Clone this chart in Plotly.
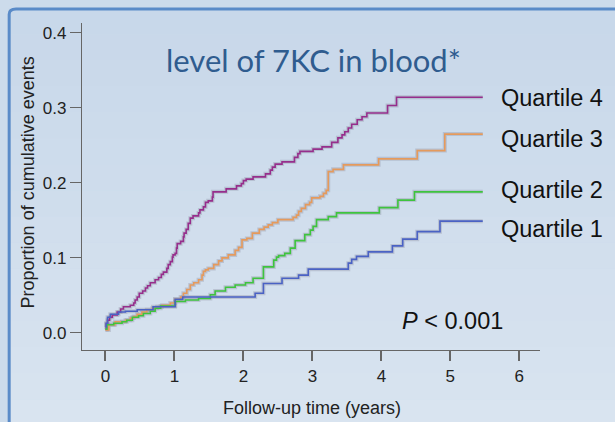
import plotly.graph_objects as go

# ---- data ----
series_names = ["Quartile 4", "Quartile 3", "Quartile 2", "Quartile 1"]

q4_t = [0.0, 0.014, 0.03, 0.06, 0.10, 0.17, 0.22, 0.26, 0.36, 0.41, 0.43, 0.46, 0.49, 0.54, 0.58, 0.61,
        0.65, 0.72, 0.77, 0.81, 0.84, 0.89, 0.91, 0.94, 0.97, 0.98, 1.01, 1.03, 1.04, 1.09, 1.13, 1.14,
        1.17, 1.20, 1.23, 1.27, 1.35, 1.37, 1.42, 1.45, 1.49, 1.55, 1.56, 1.75, 1.90, 1.97, 2.00, 2.04,
        2.14, 2.32, 2.39, 2.42, 2.46, 2.56, 2.74, 2.79, 2.82, 3.01, 3.14, 3.28, 3.37, 3.43, 3.47, 3.52,
        3.57, 3.65, 3.72, 3.79, 4.09, 4.22, 5.47]
q4_v = [0.005, 0.012, 0.017, 0.021, 0.024, 0.028, 0.032, 0.035, 0.037, 0.040, 0.044, 0.048, 0.053, 0.056,
        0.060, 0.063, 0.067, 0.071, 0.074, 0.078, 0.081, 0.086, 0.091, 0.095, 0.101, 0.104, 0.106, 0.113,
        0.119, 0.122, 0.128, 0.133, 0.138, 0.146, 0.153, 0.156, 0.160, 0.164, 0.168, 0.174, 0.176, 0.181,
        0.188, 0.192, 0.196, 0.199, 0.203, 0.205, 0.208, 0.212, 0.217, 0.221, 0.225, 0.228, 0.234, 0.239,
        0.242, 0.245, 0.248, 0.254, 0.260, 0.264, 0.268, 0.273, 0.278, 0.284, 0.288, 0.293, 0.303, 0.314,
        0.314]

q3_t = [0.0, 0.05, 0.14, 0.29, 0.36, 0.41, 0.46, 0.53, 0.60, 0.68, 0.75, 0.82, 0.94, 1.01, 1.09, 1.13,
        1.18, 1.23, 1.28, 1.35, 1.40, 1.42, 1.45, 1.49, 1.57, 1.64, 1.69, 1.78, 1.88, 1.93, 1.98, 2.05,
        2.13, 2.23, 2.30, 2.36, 2.42, 2.50, 2.72, 2.77, 2.80, 2.84, 2.90, 2.96, 2.99, 3.11, 3.16, 3.20,
        3.23, 3.30, 3.45, 3.96, 4.52, 4.92, 5.47]
q3_v = [0.004, 0.011, 0.015, 0.017, 0.020, 0.022, 0.025, 0.028, 0.031, 0.033, 0.035, 0.037, 0.040, 0.045,
        0.048, 0.053, 0.058, 0.064, 0.067, 0.071, 0.077, 0.082, 0.084, 0.086, 0.091, 0.096, 0.100, 0.104,
        0.110, 0.114, 0.124, 0.126, 0.133, 0.138, 0.141, 0.144, 0.147, 0.151, 0.154, 0.157, 0.162, 0.166,
        0.171, 0.174, 0.180, 0.182, 0.186, 0.190, 0.215, 0.218, 0.224, 0.232, 0.243, 0.265, 0.265]

q2_t = [0.0, 0.02, 0.12, 0.24, 0.31, 0.39, 0.48, 0.55, 0.65, 0.72, 0.80, 1.01, 1.16, 1.35, 1.52, 1.59,
        1.74, 1.88, 2.03, 2.14, 2.29, 2.44, 2.48, 2.51, 2.60, 2.68, 2.75, 2.89, 2.97, 3.01, 3.06, 3.23,
        3.35, 3.97, 4.24, 4.48, 5.47]
q2_v = [0.005, 0.011, 0.013, 0.015, 0.017, 0.021, 0.023, 0.026, 0.029, 0.033, 0.036, 0.042, 0.044, 0.046,
        0.051, 0.056, 0.061, 0.064, 0.067, 0.073, 0.088, 0.097, 0.101, 0.103, 0.106, 0.113, 0.123, 0.131,
        0.137, 0.142, 0.151, 0.155, 0.160, 0.167, 0.177, 0.188, 0.188]

q1_t = [0.0, 0.01, 0.03, 0.07, 0.19, 0.29, 0.46, 0.69, 1.01, 1.12, 2.17, 2.29, 2.56, 2.80, 2.94, 3.52,
        3.57, 3.64, 3.81, 4.16, 4.31, 4.52, 4.85, 5.47]
q1_v = [0.008, 0.013, 0.021, 0.025, 0.028, 0.029, 0.031, 0.035, 0.045, 0.048, 0.053, 0.066, 0.073, 0.077,
        0.085, 0.093, 0.098, 0.102, 0.108, 0.116, 0.125, 0.135, 0.149, 0.149]

series_t = [q4_t, q3_t, q2_t, q1_t]
series_v = [q4_v, q3_v, q2_v, q1_v]

x_ticks = [0, 1, 2, 3, 4, 5, 6]
y_ticks = [0.0, 0.1, 0.2, 0.3, 0.4]
y_ticklabels = ["0.0", "0.1", "0.2", "0.3", "0.4"]

title_text = "level of 7KC in blood*"
p_text = "<i>P</i> < 0.001"
x_title = "Follow-up time (years)"
y_title = "Proportion of cumulative events"

# ---- styling ----
colors = ["#962e8c", "#e59a5c", "#3ec43e", "#4a62c4"]
label_y = [0.313, 0.259, 0.191, 0.139]

fig = go.Figure()

for t, v in zip(series_t, series_v):
    fig.add_trace(go.Scatter(x=t, y=v, mode="lines", line=dict(shape="hv", width=4,
                             color="rgba(130,130,150,0.30)"), hoverinfo="skip", showlegend=False))
for t, v, c, n in zip(series_t, series_v, colors, series_names):
    fig.add_trace(go.Scatter(x=t, y=v, mode="lines", name=n,
                             line=dict(shape="hv", width=1.6, color=c), showlegend=False))

# background bands (gradient) inside frame
shapes = []
nb = 16
y_top, y_bot = 1.045, -0.23
c0 = (0xc8, 0xd8, 0xea)
c1 = (0xd9, 0xe4, 0xf0)
for i in range(nb):
    f = i / (nb - 1)
    col = "rgb(%d,%d,%d)" % tuple(int(c0[k] + (c1[k] - c0[k]) * f) for k in range(3))
    ya = y_top - (y_top - y_bot) * i / nb
    yb = y_top - (y_top - y_bot) * (i + 1) / nb
    shapes.append(dict(type="rect", xref="paper", yref="paper", x0=-0.16, x1=1.2, y0=yb, y1=ya,
                       fillcolor=col, line=dict(width=0), layer="below"))
# frame
shapes.append(dict(type="path", xref="paper", yref="paper",
                   path="M -0.159,-0.3 L -0.159,1.027 Q -0.159,1.043 -0.144,1.043 L 1.3,1.043",
                   line=dict(color="#5a8bc8", width=3), layer="above"))

annotations = [
    dict(text=title_text, xref="paper", yref="paper", x=0.505, y=0.887, showarrow=False,
         font=dict(family="Lato", size=31, color="#2f5c8f"), xanchor="center", yanchor="middle"),
    dict(text=p_text, xref="x", yref="y", x=4.27, y=0.016, showarrow=False,
         font=dict(family="Liberation Sans", size=23.5, color="#111"), xanchor="left", yanchor="middle"),
    dict(text=x_title, xref="paper", yref="paper", x=0.503, y=-0.177, showarrow=False,
         font=dict(family="Liberation Sans", size=18, color="#222"), xanchor="center", yanchor="middle"),
    dict(text=y_title, xref="paper", yref="paper", x=-0.119, y=0.514, showarrow=False, textangle=-90,
         font=dict(family="Liberation Sans", size=18, color="#222"), xanchor="center", yanchor="middle"),
]
for n, ly in zip(series_names, label_y):
    annotations.append(dict(text=n, xref="x", yref="y", x=5.70, y=ly, showarrow=False,
                            font=dict(family="Liberation Sans", size=23.5, color="#111"),
                            xanchor="left", yanchor="middle"))

fig.update_layout(
    width=615, height=422,
    margin=dict(l=81.5, r=75, t=23, b=72, pad=0),
    paper_bgcolor="#ccdbeb", plot_bgcolor="rgba(0,0,0,0)",
    shapes=shapes, annotations=annotations, showlegend=False,
    xaxis=dict(range=[-0.34, 6.3], tickvals=x_ticks, showgrid=False, zeroline=False,
               showline=True, linecolor="#666", linewidth=1.2, ticks="outside", ticklen=10,
               tickcolor="#666", tickwidth=1.5, tickfont=dict(family="Liberation Sans", size=17, color="#222")),
    yaxis=dict(range=[-0.0227, 0.413], tickvals=y_ticks, ticktext=y_ticklabels, showgrid=False,
               zeroline=False, showline=True, linecolor="#666", linewidth=1.2, ticks="outside",
               ticklen=11, tickcolor="#666", tickwidth=1.2,
               tickfont=dict(family="Liberation Sans", size=17, color="#222")),
)

fig.write_html("out.html", config={"displayModeBar": False},
               post_script="document.body.style.margin='0';document.body.style.padding='0';")
